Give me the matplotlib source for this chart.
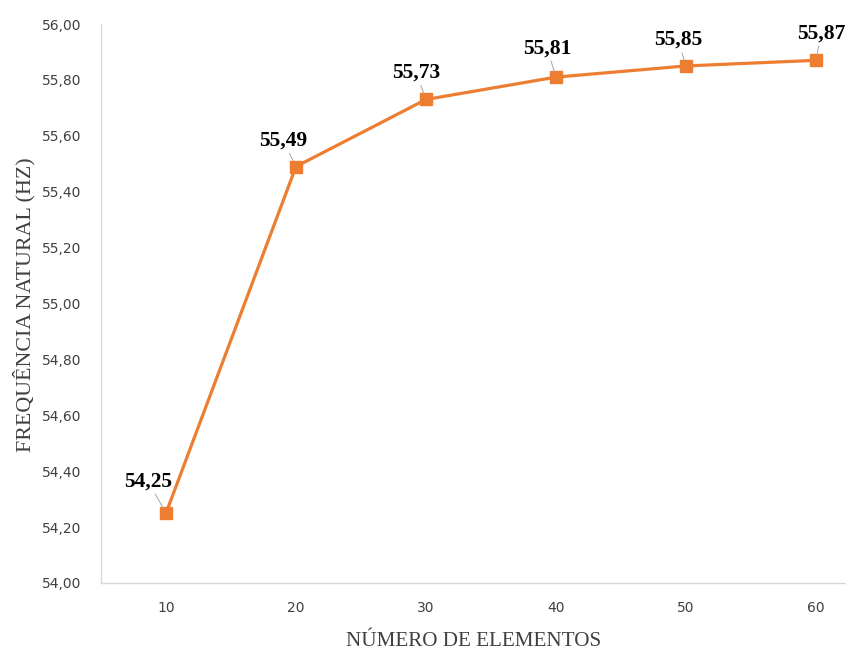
import matplotlib
matplotlib.use("Agg")
import matplotlib.pyplot as plt
from matplotlib.ticker import FuncFormatter

elementos = [10, 20, 30, 40, 50, 60]
frequencia = [54.25, 55.49, 55.73, 55.81, 55.85, 55.87]
rotulos = ["54,25", "55,49", "55,73", "55,81", "55,85", "55,87"]
y_ticks = [54.0, 54.2, 54.4, 54.6, 54.8, 55.0, 55.2, 55.4, 55.6, 55.8, 56.0]
# label offsets in pixels
offsets = [(-18, 32), (-13, 26), (-10, 27), (-9, 29), (-8, 26), (5, 27)]

W, H = 846, 653
fig = plt.figure(figsize=(W / 100, H / 100), dpi=100)
ax = fig.add_axes([101 / W, (H - 583) / H, 780 / W, (583 - 24) / H])

orange = "#ED7D31"
ax.plot(elementos, frequencia, color=orange, lw=2.3, marker="s", ms=8.5,
        markerfacecolor=orange, markeredgecolor=orange, zorder=3)

ax.set_xlim(5, 65)
ax.set_ylim(54.0, 56.0)
ax.set_xticks(elementos)
ax.set_xticklabels([str(e) for e in elementos])
ax.set_yticks(y_ticks)
ax.yaxis.set_major_formatter(FuncFormatter(lambda v, p: f"{v:.2f}".replace(".", ",")))

for s in ["top", "right"]:
    ax.spines[s].set_visible(False)
for s in ["left", "bottom"]:
    ax.spines[s].set_color("#D9D9D9")
    ax.spines[s].set_linewidth(1.0)

ax.tick_params(axis="both", length=0, labelsize=10, labelcolor="#404040")
ax.tick_params(axis="y", pad=14)
ax.tick_params(axis="x", pad=13)

for x, y, t, (dx, dy) in zip(elementos, frequencia, rotulos, offsets):
    ax.annotate(t, xy=(x, y), xytext=(dx, dy), textcoords="offset pixels",
                ha="center", va="center", family="Liberation Serif",
                fontweight="bold", fontsize=15.5, color="black",
                arrowprops=dict(arrowstyle="-", color="#A6A6A6", lw=0.7,
                                shrinkA=0, shrinkB=4), zorder=4)

fig.text(474 / W, 1 - 641 / H, "NÚMERO DE ELEMENTOS", ha="center", va="center",
         family="Liberation Serif", fontsize=15.2, color="#404040")
fig.text(24 / W, 1 - 305 / H, "FREQUÊNCIA NATURAL (HZ)", ha="center", va="center",
         rotation=90, family="Liberation Serif", fontsize=15.8, color="#404040")

fig.savefig("out.png", dpi=100)
